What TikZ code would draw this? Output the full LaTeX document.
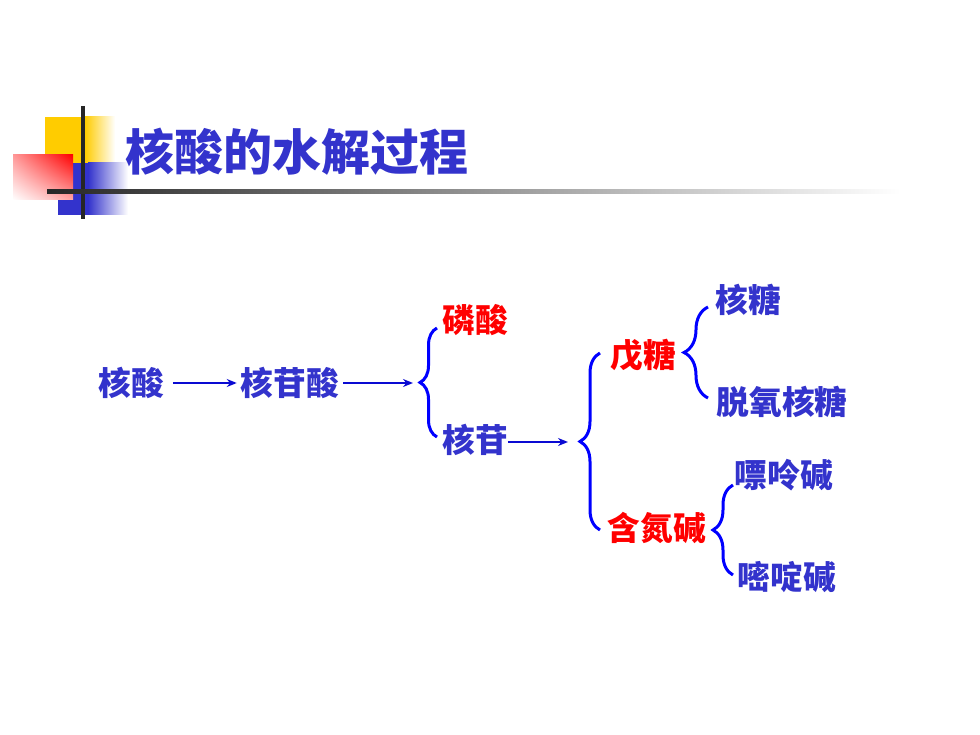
\documentclass[tikz,border=0pt]{standalone}
\usepackage{fontspec}
\newfontfamily\cjk{Noto Sans CJK SC}
\usetikzlibrary{arrows.meta,decorations.pathreplacing,shadings}
\definecolor{txtblue}{RGB}{51,51,204}
\definecolor{arrblue}{RGB}{10,10,210}
\definecolor{gold}{RGB}{255,204,0}
\tikzset{
  txt/.style={inner sep=4pt, text=txtblue, font=\cjk\bfseries\fontsize{32.7}{36}\selectfont},
  redtxt/.style={txt, text=red},
  arr/.style={-{Stealth[length=10pt,width=8pt]}, line width=2.8pt, arrblue},
  br/.style={decorate, decoration={brace,amplitude=#1}, line width=3pt, blue},
}
\begin{document}
\begin{tikzpicture}[x=1pt, y=-1pt]
\useasboundingbox (0,0) rectangle (980,735);
% corner decoration
\fill[gold] (45,117) rectangle (85,163);
\shade[left color=gold, right color=white] (85,117) rectangle (115,163);
\fill[txtblue] (58,163) rectangle (88,215);
\shade[left color=txtblue, right color=white] (88,163) rectangle (128,215);
\shade[upper right=red, upper left=red!40, lower right=red!35, lower left=white] (13,155) rectangle (73,200);
\draw[line width=3.5pt, black!85] (83,106) -- (83,219);
\shade[left color=black!85, right color=white] (47,190) rectangle (900,194);
\node[txt, font=\cjk\bfseries\fontsize{49}{54}\selectfont] (title) at (297,152) {核酸的水解过程};
% tree
\node[txt] (hs) at (131,383) {核酸};
\node[txt] (hgs) at (290,383) {核苷酸};
\node[redtxt] (ls) at (475,320) {磷酸};
\node[txt] (hg) at (475,440) {核苷};
\node[redtxt] (wt) at (643,355) {戊糖};
\node[redtxt] (hdj) at (657,528) {含氮碱};
\node[txt] (ht) at (748,300) {核糖};
\node[txt] (txht) at (782,402) {脱氧核糖};
\node[txt] (plj) at (784,475) {嘌呤碱};
\node[txt] (mdj) at (787,577) {嘧啶碱};
\coordinate (tip1) at (420,383);
\coordinate (tip2) at (580,442);
\draw[arr, shorten <=5pt] (hs) -- (hgs);
\draw[arr, shorten >=7pt] (hgs) -- (tip1);
\draw[arr, shorten <=-4pt, shorten >=12pt] (hg.east |- tip2) -- (tip2);
\draw[br=17pt] (437,437) -- (437,328);
\draw[br=20pt] (600,530) -- (600,353);
\draw[br=24pt] (708,398) -- (708,307);
\draw[br=20pt] (733,575) -- (733,485);
\end{tikzpicture}
\end{document}
